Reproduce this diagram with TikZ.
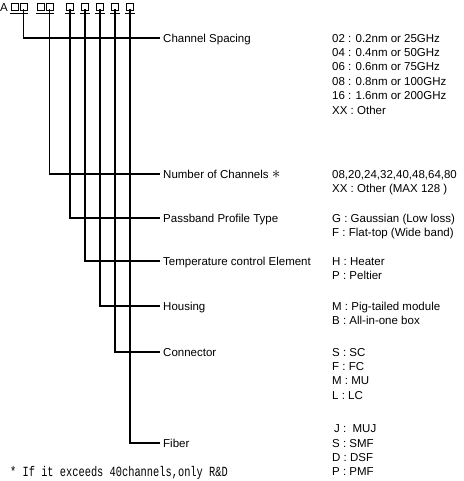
\documentclass[tikz,border=0pt]{standalone}
\usepackage{fontspec}
\setmainfont{Liberation Sans}
\newfontfamily\notefont[FakeStretch=0.74]{Liberation Mono}
\usetikzlibrary{positioning}

\begin{document}
\begin{tikzpicture}[x=1pt, y=-1pt,
    slot/.style={draw, line width=0.9pt, minimum width=7pt, minimum height=7.6pt, inner sep=0pt},
    wire/.style={line width=1.1pt},
    field/.style={anchor=west, inner xsep=3pt, inner ysep=0pt, text height=8.2pt, text depth=0pt,
      font=\fontsize{11.5}{14.4}\selectfont},
    codes/.style={anchor=north west, inner sep=0pt, align=left, font=\fontsize{11.5}{14.4}\selectfont},
    note/.style={anchor=base west, inner sep=0pt, font=\notefont\fontsize{14}{14}\selectfont}
  ]
    \useasboundingbox (0,0) rectangle (463,481);

    % part number
    \node[field, inner xsep=0pt] (prefix) at (0,7) {A};
    \node[slot] (p1a) at (14.5,7) {};
    \node[slot] (p1b) at (23.5,7) {};
    \node[slot] (p2a) at (40.5,7) {};
    \node[slot] (p2b) at (49.5,7) {};
    \node[slot] (s3) at (70,7) {};
    \node[slot] (s4) at (85,7) {};
    \node[slot] (s5) at (100,7) {};
    \node[slot] (s6) at (115,7) {};
    \node[slot] (s7) at (130,7) {};

    \draw[wire] ([shift={(-0.8,2.2)}]p1a.south west) -- ([shift={(0.8,2.2)}]p1b.south east);
    \draw[wire] ([shift={(-0.8,2.2)}]p2a.south west) -- ([shift={(0.8,2.2)}]p2b.south east);
    \draw[wire] ([shift={(-1,2.2)}]s3.south west) -- ([shift={(1,2.2)}]s3.south east);
    \draw[wire] ([shift={(-1,2.2)}]s4.south west) -- ([shift={(1,2.2)}]s4.south east);
    \draw[wire] ([shift={(-1,2.2)}]s5.south west) -- ([shift={(1,2.2)}]s5.south east);
    \draw[wire] ([shift={(-1,2.2)}]s6.south west) -- ([shift={(1,2.2)}]s6.south east);
    \draw[wire] ([shift={(-1,2.2)}]s7.south west) -- ([shift={(1,2.2)}]s7.south east);

    % fields
    \node[field] (spacing) at (160,38) {Channel Spacing};
    \node[field] (count) at (160,174) {Number of Channels {\fontsize{16}{16}\selectfont$\ast$}};
    \node[field] (profile) at (160,218) {Passband Profile Type};
    \node[field] (temp) at (160,261) {Temperature control Element};
    \node[field] (housing) at (160,306) {Housing};
    \node[field] (conn) at (160,352) {Connector};
    \node[field] (fiber) at (160,443) {Fiber};

    \draw[wire] ([yshift=2.2pt]p1b.south) |- (spacing.west);
    \draw[wire] ([yshift=2.2pt]p2b.south) |- (count.west);
    \draw[wire] ([yshift=2.2pt]s3.south) |- (profile.west);
    \draw[wire] ([yshift=2.2pt]s4.south) |- (temp.west);
    \draw[wire] ([yshift=2.2pt]s5.south) |- (housing.west);
    \draw[wire] ([yshift=2.2pt]s6.south) |- (conn.west);
    \draw[wire] ([yshift=2.2pt]s7.south) |- (fiber.west);

    % codes
    \node[codes] (spacingcodes) at (332,31.9) {\strut 02 : 0.2nm or 25GHz\\04 : 0.4nm or 50GHz\\06 : 0.6nm or 75GHz\\08 : 0.8nm or 100GHz\\16 : 1.6nm or 200GHz\\XX : Other};
    \node[codes] (countcodes) at (332,167.9) {\strut 08,20,24,32,40,48,64,80\\XX : Other (MAX 128 )};
    \node[codes] (profilecodes) at (332,211.9) {\strut G : Gaussian (Low loss)\\F : Flat-top (Wide band)};
    \node[codes] (tempcodes) at (332,254.9) {\strut H : Heater\\P : Peltier};
    \node[codes] (housingcodes) at (332,299.9) {\strut M : Pig-tailed module\\B : All-in-one box};
    \node[codes] (conncodes) at (332,345.9) {\strut S : SC\\F : FC\\M : MU\\L : LC};
    \node[codes] (fibercodes) at (332,422.5) {\strut\,J :\ \ MUJ\\S : SMF\\D : DSF\\P : PMF};

    \node[note] (footnote) at (10,476) {* If it exceeds 40channels,only R\&D};
  \end{tikzpicture}
\end{document}
